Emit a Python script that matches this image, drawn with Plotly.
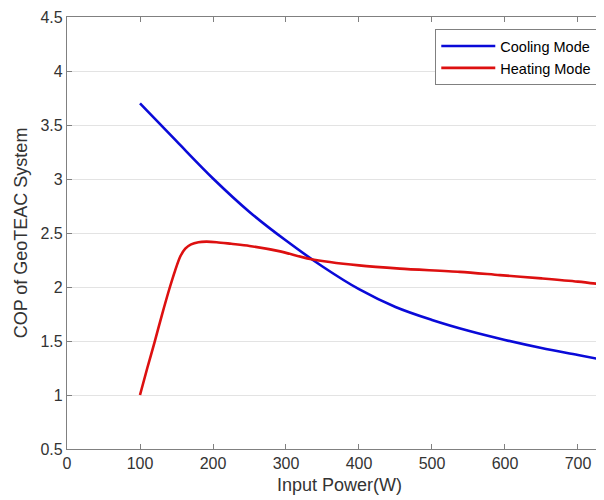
import plotly.graph_objects as go

cool_x = [100, 150, 200, 250, 300, 350, 400, 450, 500, 550, 600, 650, 700, 750]
cool_y = [3.70, 3.35, 3.005, 2.695, 2.43, 2.19, 1.98, 1.815, 1.695, 1.595, 1.51, 1.435, 1.37, 1.305]

heat_x = [100, 110, 120, 130, 141, 148, 155, 162, 170, 180, 191, 205, 225, 250, 292, 333, 400, 456, 538, 593, 650, 700, 750]
heat_y = [1.00, 1.25, 1.49, 1.74, 2.00, 2.15, 2.28, 2.355, 2.395, 2.415, 2.42, 2.415, 2.40, 2.38, 2.33, 2.26, 2.20, 2.17, 2.14, 2.11, 2.08, 2.05, 2.01]

x_ticks = [0, 100, 200, 300, 400, 500, 600, 700]
y_ticks = [0.5, 1, 1.5, 2, 2.5, 3, 3.5, 4, 4.5]

FONT = "Liberation Sans, Arial, sans-serif"

fig = go.Figure()
fig.add_trace(go.Scatter(x=cool_x, y=cool_y, mode="lines", name="Cooling Mode",
                         line=dict(color="#0a0ad8", width=2.6, shape="spline", smoothing=1.0)))
fig.add_trace(go.Scatter(x=heat_x, y=heat_y, mode="lines", name="Heating Mode",
                         line=dict(color="#dd1010", width=2.6, shape="spline", smoothing=0.8)))

axis_common = dict(showline=True, linecolor="#808080", linewidth=1.3, ticks="inside",
                   ticklen=5, tickcolor="#808080", gridcolor="#e3e3e3",
                   zeroline=False, automargin=False,
                   tickfont=dict(family=FONT, size=16, color="#333333"))

fig.update_layout(
    width=604, height=500,
    margin=dict(l=59, r=0, t=9, b=59),
    paper_bgcolor="white", plot_bgcolor="white",
    font=dict(family=FONT, size=16, color="#333333"),
    xaxis=dict(range=[0, 746.6], tickvals=x_ticks, mirror="ticks", showgrid=False,
               title=dict(text="Input Power(W)", font=dict(size=18), standoff=7),
               **axis_common),
    yaxis=dict(range=[0.5, 4.5], tickvals=y_ticks, showgrid=True,
               title=dict(text="COP of GeoTEAC System", font=dict(size=18), standoff=8),
               **axis_common),
    legend=dict(x=0.973, y=0.972, xanchor="right", yanchor="top",
                bgcolor="white", bordercolor="#808080", borderwidth=1,
                font=dict(family=FONT, size=14.5, color="#000000"), tracegroupgap=0,
                itemwidth=54),
    showlegend=True,
)

fig.write_html("out.html")
